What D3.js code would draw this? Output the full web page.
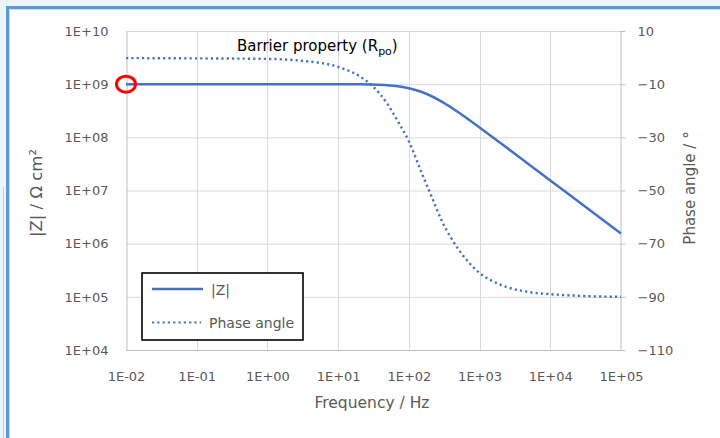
<!DOCTYPE html>
<html>
<head>
<meta charset="utf-8">
<script src="https://cdn.jsdelivr.net/npm/d3@7"></script>
<style>
  html, body { margin: 0; padding: 0; background: #fff; }
  svg { display: block; font-family: "DejaVu Sans", Verdana, sans-serif; }
  .tick text { fill: #595959; font-size: 13px; }
</style>
</head>
<body>
<svg id="chart" width="720" height="438"></svg>
<script>
// frequencies (Hz)
const freq = [0.01, 0.1, 1, 3, 10, 20, 30, 50, 70, 100, 150, 200, 300, 500, 700, 1000, 2000, 5000, 10000, 30000, 100000];
// |Z| in ohm cm2
const modZ = [1.0e9, 1.0e9, 1.0e9, 1.0e9, 9.98e8, 9.92e8, 9.82e8, 9.52e8, 9.11e8, 8.4e8, 7.19e8, 6.12e8, 4.59e8, 2.96e8, 2.16e8, 1.53e8, 7.73e7, 3.1e7, 1.55e7, 5.17e6, 1.55e6];
// phase angle in degrees
const phase = [-0.2, -0.3, -0.5, -1.2, -3.5, -7, -10.5, -17.5, -24, -31.5, -43, -51, -62, -72, -77, -81, -85.5, -88.2, -89, -89.7, -90];

const xTicks = [1e-2, 1e-1, 1e0, 1e1, 1e2, 1e3, 1e4, 1e5];
const zTicks = [1e4, 1e5, 1e6, 1e7, 1e8, 1e9, 1e10];
const phaseTicks = [-110, -90, -70, -50, -30, -10, 10];

const blue = "#4472c4";
const grid = "#d9d9d9";

const svg = d3.select("#chart");

// frame of the pasted picture
svg.append("rect").attr("width", 720).attr("height", 438).attr("fill", "#eef4fb");
svg.append("rect").attr("x", 9).attr("y", 9).attr("width", 711).attr("height", 429).attr("fill", "#fff");
svg.append("line").attr("x1", 3.5).attr("x2", 3.5).attr("y1", 187).attr("y2", 438)
  .attr("stroke", "#b5cfee").attr("stroke-width", 1);
svg.append("path").attr("d", "M7.5,438V7.5H720")
  .attr("fill", "none").attr("stroke", "#5b9bd5").attr("stroke-width", 3);
svg.append("path").attr("d", "M9.5,438V9.5H720")
  .attr("fill", "none").attr("stroke", "#d6d6d6").attr("stroke-width", 1);

const x = d3.scaleLog().domain([1e-2, 1e5]).range([126, 621]);
const yZ = d3.scaleLog().domain([1e4, 1e10]).range([350, 31]);
const yP = d3.scaleLinear().domain([-110, 10]).range([350, 31]);

// 1E+05 style labels
const sci = d => {
  const e = Math.round(Math.log10(d));
  return "1E" + (e < 0 ? "-" : "+") + String(Math.abs(e)).padStart(2, "0");
};

// gridlines
svg.append("g").selectAll("line").data(zTicks.slice(1)).join("line")
  .attr("x1", x(1e-2)).attr("x2", x(1e5))
  .attr("y1", d => yZ(d) + 0.5).attr("y2", d => yZ(d) + 0.5)
  .attr("stroke", grid);
svg.append("g").selectAll("line").data(xTicks.slice(1, -1)).join("line")
  .attr("x1", d => Math.round(x(d)) + 0.5).attr("x2", d => Math.round(x(d)) + 0.5)
  .attr("y1", yZ(1e10)).attr("y2", yZ(1e4))
  .attr("stroke", grid);

// axes
const axisColor = "#bfbfbf";
const gx = svg.append("g").attr("transform", "translate(0,350.5)")
  .call(d3.axisBottom(x).tickValues(xTicks).tickFormat(sci).tickSize(0).tickPadding(21));
const gl = svg.append("g").attr("transform", "translate(126.5,0)")
  .call(d3.axisLeft(yZ).tickValues(zTicks).tickFormat(sci).tickSize(0).tickPadding(18));
const gr = svg.append("g").attr("transform", "translate(620.5,0)")
  .call(d3.axisRight(yP).tickValues(phaseTicks).tickSizeInner(5).tickSizeOuter(0).tickPadding(12));
[gx, gl, gr].forEach(g => {
  g.select(".domain").attr("stroke", axisColor);
  g.selectAll(".tick line").attr("stroke", axisColor);
  g.attr("font-family", null).attr("font-size", null);
});
gx.select(".domain").attr("d", "M126,0H625");

// axis titles
svg.append("text").attr("x", 372).attr("y", 408).attr("text-anchor", "middle")
  .attr("fill", "#595959").attr("font-size", 15.5).text("Frequency / Hz");
svg.append("text").attr("transform", "translate(42,193) rotate(-90)").attr("text-anchor", "middle")
  .attr("fill", "#595959").attr("font-size", 16.5).text("|Z| / Ω cm²");
svg.append("text").attr("transform", "translate(695,188) rotate(-90)").attr("text-anchor", "middle")
  .attr("fill", "#595959").attr("font-size", 15).text("Phase angle / °");

// series
const pts = freq.map((f, i) => ({ f, z: modZ[i], p: phase[i] }));
svg.append("path").datum(pts)
  .attr("fill", "none").attr("stroke", blue).attr("stroke-width", 2.4)
  .attr("stroke-dasharray", "2.2,3.1")
  .attr("d", d3.line().x(d => x(d.f)).y(d => yP(d.p)).curve(d3.curveMonotoneX));
svg.append("path").datum(pts)
  .attr("fill", "none").attr("stroke", blue).attr("stroke-width", 2.5)
  .attr("d", d3.line().x(d => x(d.f)).y(d => yZ(d.z)).curve(d3.curveMonotoneX));

// annotation
const note = svg.append("text").attr("x", 237).attr("y", 51).attr("font-size", 15).attr("fill", "#000");
note.append("tspan").text("Barrier property (R");
note.append("tspan").attr("font-size", 11).attr("dy", 4).text("po");
note.append("tspan").attr("dy", -4).text(")");

// red marker at the low-frequency |Z|
svg.append("ellipse").attr("cx", x(freq[0])).attr("cy", yZ(modZ[0]))
  .attr("rx", 9.5).attr("ry", 8).attr("fill", "none").attr("stroke", "#ff0000").attr("stroke-width", 3);

// legend
const lg = svg.append("g");
lg.append("rect").attr("x", 142).attr("y", 273).attr("width", 161).attr("height", 67)
  .attr("fill", "#fff").attr("stroke", "#000").attr("stroke-width", 1.6);
lg.append("line").attr("x1", 152).attr("x2", 203).attr("y1", 289).attr("y2", 289)
  .attr("stroke", blue).attr("stroke-width", 2.5);
lg.append("line").attr("x1", 152).attr("x2", 201).attr("y1", 322.5).attr("y2", 322.5)
  .attr("stroke", blue).attr("stroke-width", 2.2).attr("stroke-dasharray", "2.2,3.1");
lg.append("text").attr("x", 211).attr("y", 295).attr("font-size", 14).attr("fill", "#595959").text("|Z|");
lg.append("text").attr("x", 209).attr("y", 328).attr("font-size", 14).attr("fill", "#595959").text("Phase angle");
</script>
</body>
</html>
